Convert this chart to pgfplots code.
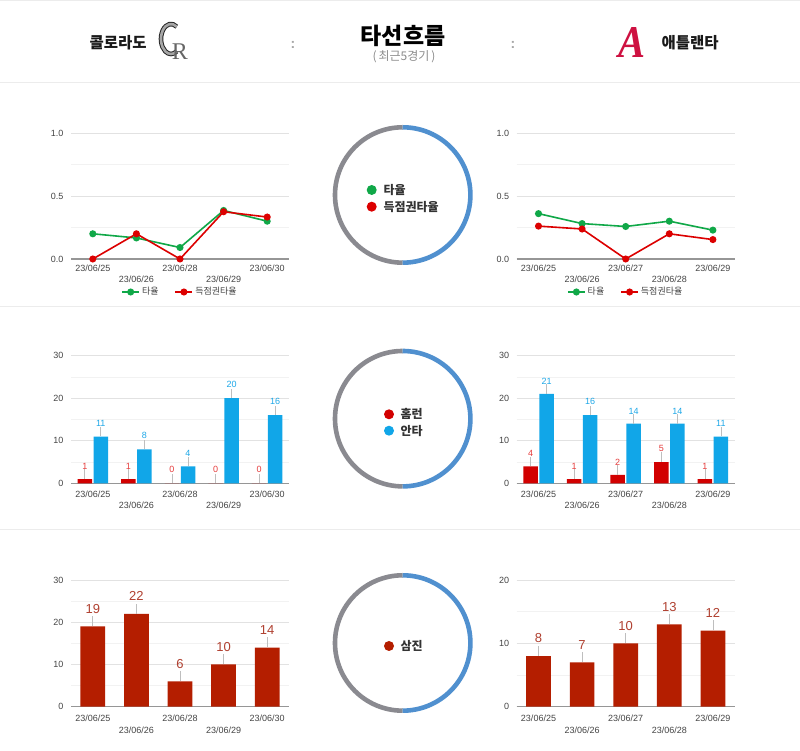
\documentclass[border=0pt]{standalone}
\usepackage{fontspec}
\usepackage{graphicx}
\usepackage{pgfplots}
\pgfplotsset{compat=1.18}
\setmainfont{Liberation Sans}
\newfontfamily\kr{Noto Sans CJK KR}
\newfontfamily\serifl{Liberation Serif}
\definecolor{gline}{RGB}{16,168,72}
\definecolor{rline}{RGB}{220,0,0}
\definecolor{bbar}{RGB}{17,166,232}
\definecolor{rbar}{RGB}{210,0,0}
\definecolor{dbar}{RGB}{180,30,0}
\definecolor{blab}{RGB}{30,168,232}
\definecolor{rlab}{RGB}{230,60,60}
\definecolor{dlab}{RGB}{176,64,48}
\definecolor{stem}{RGB}{190,190,190}
\definecolor{axisgray}{RGB}{150,150,150}
\definecolor{gridmaj}{RGB}{226,226,226}
\definecolor{gridmin}{RGB}{242,242,242}
\definecolor{ticktext}{RGB}{68,68,68}
\definecolor{ringgray}{RGB}{138,138,144}
\definecolor{ringblue}{RGB}{80,144,207}
\definecolor{sepgray}{RGB}{236,236,236}
\definecolor{atlred}{RGB}{206,17,65}
\definecolor{atlnavy}{RGB}{19,39,79}

\pgfplotsset{
  base/.style={
    scale only axis, width=218pt,
    xmin=-0.5, xmax=4.5, xtick={0,1,2,3,4},
    axis x line*=bottom, axis y line*=left,
    y axis line style={draw=none},
    x axis line style={draw=axisgray, line width=1.4pt},
    major tick length=0pt, minor tick length=0pt,
    ymajorgrids, yminorgrids, minor y tick num=1,
    major grid style={draw=gridmaj, line width=0.8pt},
    minor grid style={draw=gridmin, line width=0.8pt},
    tick label style={font=\fontsize{9}{10}\selectfont, text=ticktext},
    yticklabel style={xshift=-4pt},
    /pgf/number format/assume math mode=true,
    xticklabel style={yshift={-11.5*mod(\ticknum,2)}},
    clip=false,
  },
  linechart/.style={
    base, height=126pt, ymin=0, ymax=1, ytick={0,0.5,1},
    xticklabel style={yshift=-2pt},
    yticklabel style={/pgf/number format/.cd, fixed, fixed zerofill, precision=1},
    legend style={draw=none, fill=none, legend columns=2, at={(0.5,-0.262)}, anchor=center,
      font=\fontsize{9}{10}\selectfont, text=ticktext,
      /tikz/every even column/.append style={column sep=14pt}},
  },
  hitchart/.style={
    base, height=127.6pt, ymin=0, ymax=30, ytick={0,10,20,30},
    ybar=1.5pt, bar width=14.5pt,
    xticklabel style={yshift=-4pt},
    nodes near coords={\pgfmathprintnumber{\pgfplotspointmeta}\\{\color{stem}\rule{0.7pt}{9.5pt}}},
    every node near coord/.append style={align=center, inner sep=0pt, anchor=south, yshift=0pt,
      font=\fontsize{9}{9.5}\selectfont},
  },
  sochart/.style={
    base, height=126.7pt, ymin=0,
    ybar, bar width=24.7pt,
    xticklabel style={yshift=-5pt},
    nodes near coords={\pgfmathprintnumber{\pgfplotspointmeta}\\{\color{stem}\rule{0.7pt}{10pt}}},
    every node near coord/.append style={align=center, inner sep=0pt, anchor=south, yshift=0pt,
      font=\fontsize{13}{13}\selectfont, text=dlab},
  },
}

\begin{document}
\begin{tikzpicture}
\useasboundingbox (0,0) rectangle (800pt,751pt);
\fill[white] (0,0) rectangle (800pt,751pt);
% separators
\draw[sepgray, line width=1pt] (0,750pt) -- (800pt,750pt);
\draw[sepgray, line width=1pt] (0,668pt) -- (800pt,668pt);
\draw[sepgray, line width=1pt] (0,444pt) -- (800pt,444pt);
\draw[sepgray, line width=1pt] (0,221pt) -- (800pt,221pt);

% header
\node[font=\kr\bfseries\fontsize{23}{23}\selectfont, text=black] at (403pt,715pt) {타선흐름};
\node[font=\kr\fontsize{12}{12}\selectfont, text=black!45] at (404pt,694pt) {(\,최근5경기\,)};
\node[font=\kr\bfseries\fontsize{15.5}{15.5}\selectfont, anchor=west, text=black!90] at (86pt,708pt) {콜로라도};
\node[font=\kr\bfseries\fontsize{15.5}{15.5}\selectfont, anchor=west, text=black!90] at (658pt,708pt) {애틀랜타};
\node[font=\bfseries\fontsize{14}{14}\selectfont, text=black!35] at (293pt,706pt) {:};
\node[font=\bfseries\fontsize{14}{14}\selectfont, text=black!35] at (513pt,706pt) {:};
% CR logo: C drawn as an arc, R as text
\draw[black!85, line width=4.6pt] (171pt,712pt) ++(55:10pt and 15pt) arc[start angle=55, end angle=305, x radius=10pt, y radius=15pt];
\draw[black!35, line width=2.6pt] (171pt,712pt) ++(55:10pt and 15pt) arc[start angle=55, end angle=305, x radius=10pt, y radius=15pt];
\node[inner sep=0pt, font=\serifl\fontsize{24}{24}\selectfont, text=black!60] at (180pt,699pt) {R};
% A logo
\node[inner sep=0pt] at (632pt,708pt) {\resizebox*{27pt}{30pt}{\serifl\bfseries\itshape\textcolor{atlred}{A}}};

% donuts
\foreach \cy in {556,332.3,108} {
  \draw[ringgray, line width=4.6pt] (402.7pt,\cy pt) ++(90:67.7pt) arc[start angle=90, end angle=270, radius=67.7pt];
  \draw[ringblue, line width=4.6pt] (402.7pt,\cy pt) ++(-90:67.7pt) arc[start angle=-90, end angle=90, radius=67.7pt];
}
\fill[gline] (371.7pt,561pt) circle (5pt);
\fill[rline] (371.7pt,544.3pt) circle (5pt);
\node[font=\kr\bfseries\fontsize{12}{12}\selectfont, text=black!80, anchor=west] at (380pt,561pt) {타율};
\node[font=\kr\bfseries\fontsize{12}{12}\selectfont, text=black!80, anchor=west] at (380pt,544.3pt) {득점권타율};
\fill[rbar] (389pt,336.7pt) circle (5pt);
\fill[bbar] (389pt,320.3pt) circle (5pt);
\node[font=\kr\bfseries\fontsize{12}{12}\selectfont, text=black!80, anchor=west] at (397pt,336.7pt) {홈런};
\node[font=\kr\bfseries\fontsize{12}{12}\selectfont, text=black!80, anchor=west] at (397pt,320.3pt) {안타};
\fill[dbar] (389pt,105pt) circle (5pt);
\node[font=\kr\bfseries\fontsize{12}{12}\selectfont, text=black!80, anchor=west] at (397pt,105pt) {삼진};

% line chart left
\begin{axis}[linechart, at={(71pt,492pt)}, anchor=south west,
  xticklabels={23/06/25,23/06/26,23/06/28,23/06/29,23/06/30}]
\addplot[gline, line width=1.6pt, mark=*, mark size=2.7pt] coordinates {(0,0.200)(1,0.167)(2,0.091)(3,0.385)(4,0.300)};
\addlegendentry{\kr 타율}
\addplot[rline, line width=1.6pt, mark=*, mark size=2.7pt] coordinates {(0,0)(1,0.200)(2,0)(3,0.375)(4,0.333)};
\addlegendentry{\kr 득점권타율}
\end{axis}
% line chart right
\begin{axis}[linechart, at={(516.7pt,492pt)}, anchor=south west,
  xticklabels={23/06/25,23/06/26,23/06/27,23/06/28,23/06/29}]
\addplot[gline, line width=1.6pt, mark=*, mark size=2.7pt] coordinates {(0,0.360)(1,0.281)(2,0.258)(3,0.300)(4,0.229)};
\addlegendentry{\kr 타율}
\addplot[rline, line width=1.6pt, mark=*, mark size=2.7pt] coordinates {(0,0.261)(1,0.238)(2,0)(3,0.200)(4,0.154)};
\addlegendentry{\kr 득점권타율}
\end{axis}

% hit chart left
\begin{axis}[hitchart, at={(71pt,267.7pt)}, anchor=south west,
  xticklabels={23/06/25,23/06/26,23/06/28,23/06/29,23/06/30}]
\addplot[fill=rbar, draw=none, every node near coord/.append style={text=rlab}] coordinates {(0,1)(1,1)(2,0)(3,0)(4,0)};
\addplot[fill=bbar, draw=none, every node near coord/.append style={text=blab}] coordinates {(0,11)(1,8)(2,4)(3,20)(4,16)};
\end{axis}
% hit chart right
\begin{axis}[hitchart, at={(516.7pt,267.7pt)}, anchor=south west,
  xticklabels={23/06/25,23/06/26,23/06/27,23/06/28,23/06/29}]
\addplot[fill=rbar, draw=none, every node near coord/.append style={text=rlab}] coordinates {(0,4)(1,1)(2,2)(3,5)(4,1)};
\addplot[fill=bbar, draw=none, every node near coord/.append style={text=blab}] coordinates {(0,21)(1,16)(2,14)(3,14)(4,11)};
\end{axis}

% strikeout chart left
\begin{axis}[sochart, at={(71pt,44.3pt)}, anchor=south west, ymax=30, ytick={0,10,20,30},
  xticklabels={23/06/25,23/06/26,23/06/28,23/06/29,23/06/30}]
\addplot[fill=dbar, draw=none] coordinates {(0,19)(1,22)(2,6)(3,10)(4,14)};
\end{axis}
% strikeout chart right
\begin{axis}[sochart, at={(516.7pt,44.3pt)}, anchor=south west, ymax=20, ytick={0,10,20},
  xticklabels={23/06/25,23/06/26,23/06/27,23/06/28,23/06/29}]
\addplot[fill=dbar, draw=none] coordinates {(0,8)(1,7)(2,10)(3,13)(4,12)};
\end{axis}
\end{tikzpicture}
\end{document}
